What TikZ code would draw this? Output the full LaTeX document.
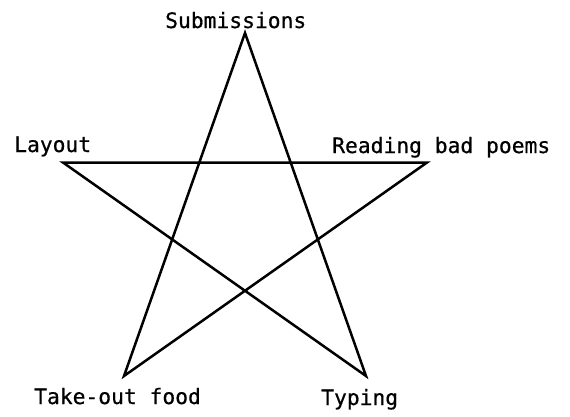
\documentclass[tikz,border=0pt]{standalone}
\usepackage{fontspec}
\newfontfamily\labelfont[FakeBold=0.6]{DejaVu Sans Mono}
\begin{document}
\begin{tikzpicture}[x=1pt,y=-1pt,
  starline/.style={line width=2.5pt, line join=miter, black},
  lbl/.style={font=\labelfont\fontsize{21.3}{24}\selectfont, inner sep=0pt, anchor=base west}]
\useasboundingbox[fill=white] (0,0) rectangle (570,416);
\coordinate (top) at (245,33);
\coordinate (left) at (63,162.5);
\coordinate (right) at (427,162.5);
\coordinate (bl) at (124,376);
\coordinate (br) at (366,376);
\draw[starline] (top) -- (bl) -- (right) -- (left) -- (br) -- cycle;
\node[lbl] (sub) at (165,28) {Submissions};
\node[lbl] (lay) at (14,152) {Layout};
\node[lbl] (read) at (332,153) {Reading bad poems};
\node[lbl] (take) at (34,404) {Take-out food};
\node[lbl] (typ) at (321,405) {Typing};
\end{tikzpicture}
\end{document}
